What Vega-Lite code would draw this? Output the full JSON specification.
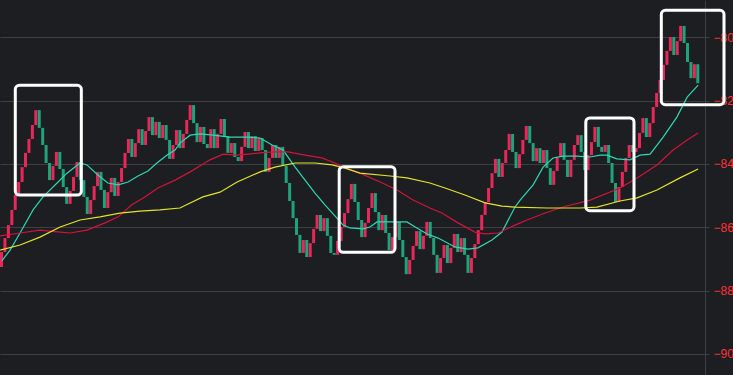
{
"$schema": "https://vega.github.io/schema/vega-lite/v6.json",
"width": 705, "height": 375,
"autosize": {"type": "none"},
"padding": {"left": 0, "top": 0, "right": 28, "bottom": 0},
"background": "#1d1e22",
"config": {"view": {"stroke": null}, "axis": {"labelFont": "Liberation Sans"}, "scale": {"continuousPadding": 0}},
"layer": [
{
"data": {"values": [
{"i":0,"o":-872.5,"c":-867.8},{"i":1,"o":-867.8,"c":-863.4},{"i":2,"o":-863.4,"c":-859.3},{"i":3,"o":-859.3,"c":-854.5},{"i":4,"o":-854.5,"c":-849.8},{"i":5,"o":-849.8,"c":-845.7},{"i":6,"o":-845.7,"c":-841.0},{"i":7,"o":-841.0,"c":-836.5},{"i":8,"o":-836.5,"c":-832.1},{"i":9,"o":-832.1,"c":-827.7},
{"i":10,"o":-827.7,"c":-823.0},{"i":11,"o":-823.0,"c":-828.6},{"i":12,"o":-828.6,"c":-834.0},{"i":13,"o":-834.0,"c":-839.7},{"i":14,"o":-839.7,"c":-845.1},{"i":15,"o":-845.1,"c":-840.6},{"i":16,"o":-840.6,"c":-836.2},{"i":17,"o":-836.2,"c":-841.6},{"i":18,"o":-841.6,"c":-847.3},{"i":19,"o":-847.3,"c":-852.6},
{"i":20,"o":-852.6,"c":-848.5},{"i":21,"o":-848.5,"c":-844.1},{"i":22,"o":-844.1,"c":-839.4},{"i":23,"o":-839.4,"c":-845.1},{"i":24,"o":-845.1,"c":-850.4},{"i":25,"o":-850.4,"c":-855.8},{"i":26,"o":-855.8,"c":-851.4},{"i":27,"o":-851.4,"c":-847.0},{"i":28,"o":-847.0,"c":-842.5},{"i":29,"o":-842.5,"c":-848.2},
{"i":30,"o":-848.2,"c":-853.9},{"i":31,"o":-853.9,"c":-848.9},{"i":32,"o":-848.9,"c":-844.4},{"i":33,"o":-844.4,"c":-850.1},{"i":34,"o":-850.1,"c":-845.7},{"i":35,"o":-845.7,"c":-841.3},{"i":36,"o":-841.3,"c":-836.5},{"i":37,"o":-836.5,"c":-832.1},{"i":38,"o":-832.1,"c":-837.8},{"i":39,"o":-837.8,"c":-833.4},
{"i":40,"o":-833.4,"c":-829.0},{"i":41,"o":-829.0,"c":-834.0},{"i":42,"o":-834.0,"c":-829.6},{"i":43,"o":-829.6,"c":-825.2},{"i":44,"o":-825.2,"c":-830.9},{"i":45,"o":-830.9,"c":-826.7},{"i":46,"o":-826.7,"c":-831.8},{"i":47,"o":-831.8,"c":-827.7},{"i":48,"o":-827.7,"c":-832.4},{"i":49,"o":-832.4,"c":-838.4},
{"i":50,"o":-838.4,"c":-834.0},{"i":51,"o":-834.0,"c":-829.3},{"i":52,"o":-829.3,"c":-835.0},{"i":53,"o":-835.0,"c":-830.5},{"i":54,"o":-830.5,"c":-826.1},{"i":55,"o":-826.1,"c":-821.4},{"i":56,"o":-821.4,"c":-827.1},{"i":57,"o":-827.1,"c":-833.1},{"i":58,"o":-833.1,"c":-828.3},{"i":59,"o":-828.3,"c":-833.7},
{"i":60,"o":-833.7,"c":-835.0},{"i":61,"o":-835.0,"c":-829.0},{"i":62,"o":-829.0,"c":-835.0},{"i":63,"o":-835.0,"c":-830.5},{"i":64,"o":-830.5,"c":-825.8},{"i":65,"o":-825.8,"c":-831.2},{"i":66,"o":-831.2,"c":-836.5},{"i":67,"o":-836.5,"c":-833.4},{"i":68,"o":-833.4,"c":-837.8},{"i":69,"o":-837.8,"c":-839.1},
{"i":70,"o":-839.1,"c":-834.6},{"i":71,"o":-834.6,"c":-829.9},{"i":72,"o":-829.9,"c":-835.0},{"i":73,"o":-835.0,"c":-831.2},{"i":74,"o":-831.2,"c":-835.9},{"i":75,"o":-835.9,"c":-831.8},{"i":76,"o":-831.8,"c":-835.6},{"i":77,"o":-835.6,"c":-842.5},{"i":78,"o":-842.5,"c":-838.1},{"i":79,"o":-838.1,"c":-834.0},
{"i":80,"o":-834.0,"c":-838.1},{"i":81,"o":-838.1,"c":-834.6},{"i":82,"o":-834.6,"c":-840.6},{"i":83,"o":-840.6,"c":-846.0},{"i":84,"o":-846.0,"c":-851.7},{"i":85,"o":-851.7,"c":-857.1},{"i":86,"o":-857.1,"c":-862.4},{"i":87,"o":-862.4,"c":-868.1},{"i":88,"o":-868.1,"c":-864.0},{"i":89,"o":-864.0,"c":-869.4},
{"i":90,"o":-869.4,"c":-865.0},{"i":91,"o":-865.0,"c":-860.5},{"i":92,"o":-860.5,"c":-856.1},{"i":93,"o":-856.1,"c":-861.2},{"i":94,"o":-861.2,"c":-857.1},{"i":95,"o":-857.1,"c":-862.7},{"i":96,"o":-862.7,"c":-868.1},{"i":97,"o":-868.1,"c":-868.7},{"i":98,"o":-868.7,"c":-864.3},{"i":99,"o":-864.3,"c":-859.9},
{"i":100,"o":-859.9,"c":-855.5},{"i":101,"o":-855.5,"c":-851.1},{"i":102,"o":-851.1,"c":-846.3},{"i":103,"o":-846.3,"c":-852.0},{"i":104,"o":-852.0,"c":-857.7},{"i":105,"o":-857.7,"c":-863.1},{"i":106,"o":-863.1,"c":-858.6},{"i":107,"o":-858.6,"c":-853.9},{"i":108,"o":-853.9,"c":-849.2},{"i":109,"o":-849.2,"c":-855.2},
{"i":110,"o":-855.2,"c":-860.9},{"i":111,"o":-860.9,"c":-856.1},{"i":112,"o":-856.1,"c":-861.8},{"i":113,"o":-861.8,"c":-867.2},{"i":114,"o":-867.2,"c":-863.1},{"i":115,"o":-863.1,"c":-858.3},{"i":116,"o":-858.3,"c":-864.0},{"i":117,"o":-864.0,"c":-869.4},{"i":118,"o":-869.4,"c":-874.8},{"i":119,"o":-874.8,"c":-870.3},
{"i":120,"o":-870.3,"c":-865.9},{"i":121,"o":-865.9,"c":-861.2},{"i":122,"o":-861.2,"c":-866.9},{"i":123,"o":-866.9,"c":-862.7},{"i":124,"o":-862.7,"c":-858.3},{"i":125,"o":-858.3,"c":-863.4},{"i":126,"o":-863.4,"c":-868.7},{"i":127,"o":-868.7,"c":-874.4},{"i":128,"o":-874.4,"c":-869.7},{"i":129,"o":-869.7,"c":-865.6},
{"i":130,"o":-865.6,"c":-871.3},{"i":131,"o":-871.3,"c":-866.5},{"i":132,"o":-866.5,"c":-862.1},{"i":133,"o":-862.1,"c":-867.8},{"i":134,"o":-867.8,"c":-863.4},{"i":135,"o":-863.4,"c":-868.7},{"i":136,"o":-868.7,"c":-874.4},{"i":137,"o":-874.4,"c":-869.7},{"i":138,"o":-869.7,"c":-865.3},{"i":139,"o":-865.3,"c":-860.9},
{"i":140,"o":-860.9,"c":-856.1},{"i":141,"o":-856.1,"c":-852.0},{"i":142,"o":-852.0,"c":-847.6},{"i":143,"o":-847.6,"c":-842.9},{"i":144,"o":-842.9,"c":-838.4},{"i":145,"o":-838.4,"c":-844.1},{"i":146,"o":-844.1,"c":-839.7},{"i":147,"o":-839.7,"c":-835.6},{"i":148,"o":-835.6,"c":-830.5},{"i":149,"o":-830.5,"c":-836.2},
{"i":150,"o":-836.2,"c":-841.3},{"i":151,"o":-841.3,"c":-836.9},{"i":152,"o":-836.9,"c":-832.4},{"i":153,"o":-832.4,"c":-828.0},{"i":154,"o":-828.0,"c":-833.4},{"i":155,"o":-833.4,"c":-839.1},{"i":156,"o":-839.1,"c":-835.0},{"i":157,"o":-835.0,"c":-839.7},{"i":158,"o":-839.7,"c":-835.6},{"i":159,"o":-835.6,"c":-841.3},
{"i":160,"o":-841.3,"c":-846.6},{"i":161,"o":-846.6,"c":-842.2},{"i":162,"o":-842.2,"c":-837.8},{"i":163,"o":-837.8,"c":-833.4},{"i":164,"o":-833.4,"c":-838.7},{"i":165,"o":-838.7,"c":-844.1},{"i":166,"o":-844.1,"c":-838.7},{"i":167,"o":-838.7,"c":-834.0},{"i":168,"o":-834.0,"c":-830.9},{"i":169,"o":-830.9,"c":-836.2},
{"i":170,"o":-836.2,"c":-841.9},{"i":171,"o":-841.9,"c":-837.2},{"i":172,"o":-837.2,"c":-833.1},{"i":173,"o":-833.1,"c":-828.3},{"i":174,"o":-828.3,"c":-834.6},{"i":175,"o":-834.6,"c":-836.2},{"i":176,"o":-836.2,"c":-834.0},{"i":177,"o":-834.0,"c":-839.7},{"i":178,"o":-839.7,"c":-846.0},{"i":179,"o":-846.0,"c":-852.0},
{"i":180,"o":-852.0,"c":-847.3},{"i":181,"o":-847.3,"c":-842.5},{"i":182,"o":-842.5,"c":-838.1},{"i":183,"o":-838.1,"c":-834.0},{"i":184,"o":-834.0,"c":-836.2},{"i":185,"o":-836.2,"c":-835.0},{"i":186,"o":-835.0,"c":-830.2},{"i":187,"o":-830.2,"c":-825.5},{"i":188,"o":-825.5,"c":-831.5},{"i":189,"o":-831.5,"c":-827.1},
{"i":190,"o":-827.1,"c":-822.0},{"i":191,"o":-822.0,"c":-817.6},{"i":192,"o":-817.6,"c":-813.5},{"i":193,"o":-813.5,"c":-808.7},{"i":194,"o":-808.7,"c":-804.3},{"i":195,"o":-804.3,"c":-799.9},{"i":196,"o":-799.9,"c":-805.6},{"i":197,"o":-805.6,"c":-801.2},{"i":198,"o":-801.2,"c":-796.4},{"i":199,"o":-796.4,"c":-801.8},
{"i":200,"o":-801.8,"c":-807.8},{"i":201,"o":-807.8,"c":-812.9},{"i":202,"o":-812.9,"c":-808.5},{"i":203,"o":-808.5,"c":-814.5}
]},
"mark": {"type": "bar", "size": 3},
"encoding": {
"x": {"field": "i", "type": "quantitative", "scale": {"domain": [-0.44, 205.1], "nice": false, "zero": false, "padding": 0}, "axis": null},
"y": {"field": "o", "type": "quantitative", "scale": {"domain": [-906.64, -788.22], "nice": false, "zero": false},
 "axis": {"orient": "right", "values": [-800, -820, -840, -860, -880, -900], "title": null, "grid": true, "gridColor": "#3e3f44", "gridWidth": 1, "domainColor": "#3e3f44", "tickColor": "#3e3f44", "tickSize": 4, "labelColor": "#ff3333", "labelFontSize": 12, "labelPadding": 4, "labelOverlap": false, "labelBound": false}},
"y2": {"field": "c"},
"color": {"condition": {"test": "datum.c > datum.o", "value": "#e8285a"}, "value": "#1fa37b"}
}
},
{
"data": {"values": [
{"s":"a","i":0.1,"v":-870.6},{"s":"a","i":2.5,"v":-867.2},{"s":"a","i":5.4,"v":-861.8},{"s":"a","i":9.2,"v":-854.5},{"s":"a","i":12.1,"v":-850.4},{"s":"a","i":16.2,"v":-846.0},{"s":"a","i":19.1,"v":-842.9},{"s":"a","i":22.9,"v":-839.7},{"s":"a","i":24.9,"v":-840.3},{"s":"a","i":28.1,"v":-843.5},
{"s":"a","i":31.0,"v":-846.0},{"s":"a","i":34.0,"v":-846.6},{"s":"a","i":36.9,"v":-845.7},{"s":"a","i":39.8,"v":-843.8},{"s":"a","i":42.7,"v":-842.2},{"s":"a","i":45.3,"v":-839.7},{"s":"a","i":48.3,"v":-837.2},{"s":"a","i":50.6,"v":-835.6},{"s":"a","i":52.0,"v":-833.4},{"s":"a","i":55.0,"v":-830.9},
{"s":"a","i":57.9,"v":-830.5},{"s":"a","i":61.7,"v":-830.9},{"s":"a","i":66.6,"v":-831.5},{"s":"a","i":71.6,"v":-831.5},{"s":"a","i":75.4,"v":-831.8},{"s":"a","i":78.9,"v":-834.0},{"s":"a","i":82.1,"v":-835.6},{"s":"a","i":85.6,"v":-841.0},{"s":"a","i":88.5,"v":-845.1},{"s":"a","i":91.4,"v":-849.2},
{"s":"a","i":94.3,"v":-852.9},{"s":"a","i":97.2,"v":-856.4},{"s":"a","i":99.6,"v":-859.3},{"s":"a","i":101.6,"v":-860.2},{"s":"a","i":105.4,"v":-860.5},{"s":"a","i":107.4,"v":-859.9},{"s":"a","i":109.5,"v":-858.3},{"s":"a","i":113.3,"v":-858.3},{"s":"a","i":118.2,"v":-858.3},{"s":"a","i":121.1,"v":-860.2},
{"s":"a","i":124.1,"v":-862.1},{"s":"a","i":127.3,"v":-863.4},{"s":"a","i":132.2,"v":-866.2},{"s":"a","i":136.0,"v":-866.9},{"s":"a","i":138.9,"v":-866.5},{"s":"a","i":143.0,"v":-864.0},{"s":"a","i":145.9,"v":-861.5},{"s":"a","i":149.7,"v":-853.6},{"s":"a","i":151.2,"v":-851.4},{"s":"a","i":155.0,"v":-846.6},
{"s":"a","i":157.9,"v":-841.0},{"s":"a","i":160.8,"v":-838.1},{"s":"a","i":163.7,"v":-837.5},{"s":"a","i":167.8,"v":-837.5},{"s":"a","i":171.6,"v":-837.8},{"s":"a","i":174.5,"v":-837.2},{"s":"a","i":176.5,"v":-837.2},{"s":"a","i":179.4,"v":-838.4},{"s":"a","i":183.2,"v":-838.7},{"s":"a","i":186.2,"v":-837.2},
{"s":"a","i":189.1,"v":-836.9},{"s":"a","i":192.9,"v":-831.5},{"s":"a","i":196.9,"v":-825.2},{"s":"a","i":199.9,"v":-818.9},{"s":"a","i":203.1,"v":-815.1},
{"s":"b","i":-0.4,"v":-862.7},{"s":"b","i":5.4,"v":-861.8},{"s":"b","i":11.2,"v":-860.9},{"s":"b","i":17.1,"v":-861.5},{"s":"b","i":20.0,"v":-861.8},{"s":"b","i":24.9,"v":-860.9},{"s":"b","i":30.2,"v":-858.6},{"s":"b","i":34.0,"v":-856.7},{"s":"b","i":38.0,"v":-852.9},{"s":"b","i":41.8,"v":-850.4},
{"s":"b","i":45.6,"v":-847.6},{"s":"b","i":50.6,"v":-845.1},{"s":"b","i":55.0,"v":-842.5},{"s":"b","i":60.8,"v":-838.7},{"s":"b","i":64.6,"v":-836.9},{"s":"b","i":68.7,"v":-837.2},{"s":"b","i":75.4,"v":-836.5},{"s":"b","i":79.7,"v":-836.2},{"s":"b","i":83.5,"v":-836.2},{"s":"b","i":88.5,"v":-837.2},
{"s":"b","i":93.4,"v":-838.1},{"s":"b","i":97.2,"v":-839.7},{"s":"b","i":100.2,"v":-841.3},{"s":"b","i":104.5,"v":-842.9},{"s":"b","i":110.4,"v":-845.7},{"s":"b","i":115.3,"v":-848.2},{"s":"b","i":120.0,"v":-851.4},{"s":"b","i":124.9,"v":-853.9},{"s":"b","i":128.4,"v":-855.5},{"s":"b","i":133.1,"v":-858.6},
{"s":"b","i":138.0,"v":-861.5},{"s":"b","i":141.0,"v":-862.1},{"s":"b","i":144.8,"v":-861.8},{"s":"b","i":149.7,"v":-859.3},{"s":"b","i":153.2,"v":-857.7},{"s":"b","i":158.5,"v":-855.5},{"s":"b","i":163.7,"v":-853.6},{"s":"b","i":171.6,"v":-851.4},{"s":"b","i":180.3,"v":-847.6},{"s":"b","i":185.3,"v":-844.4},
{"s":"b","i":191.1,"v":-840.3},{"s":"b","i":195.8,"v":-835.6},{"s":"b","i":199.9,"v":-832.4},{"s":"b","i":203.1,"v":-830.2},
{"s":"c","i":-0.4,"v":-867.2},{"s":"c","i":5.4,"v":-865.6},{"s":"c","i":11.2,"v":-863.1},{"s":"c","i":17.1,"v":-859.9},{"s":"c","i":22.9,"v":-857.7},{"s":"c","i":28.7,"v":-856.7},{"s":"c","i":34.5,"v":-855.5},{"s":"c","i":40.4,"v":-854.9},{"s":"c","i":46.2,"v":-854.5},{"s":"c","i":52.0,"v":-853.9},
{"s":"c","i":55.0,"v":-852.3},{"s":"c","i":58.7,"v":-850.4},{"s":"c","i":63.7,"v":-848.9},{"s":"c","i":68.7,"v":-845.7},{"s":"c","i":75.4,"v":-842.5},{"s":"c","i":79.7,"v":-841.0},{"s":"c","i":85.6,"v":-839.7},{"s":"c","i":91.4,"v":-839.7},{"s":"c","i":96.4,"v":-840.3},{"s":"c","i":100.2,"v":-841.3},
{"s":"c","i":104.5,"v":-842.9},{"s":"c","i":113.3,"v":-843.8},{"s":"c","i":118.2,"v":-844.4},{"s":"c","i":124.9,"v":-846.0},{"s":"c","i":129.3,"v":-847.6},{"s":"c","i":135.1,"v":-849.8},{"s":"c","i":141.0,"v":-852.3},{"s":"c","i":145.9,"v":-853.3},{"s":"c","i":149.7,"v":-853.6},{"s":"c","i":159.0,"v":-853.9},
{"s":"c","i":168.7,"v":-853.9},{"s":"c","i":173.6,"v":-853.6},{"s":"c","i":180.3,"v":-851.7},{"s":"c","i":185.3,"v":-850.7},{"s":"c","i":191.1,"v":-848.2},{"s":"c","i":197.8,"v":-844.4},{"s":"c","i":203.1,"v":-841.6}
]},
"mark": {"type": "line", "strokeWidth": 1.2},
"encoding": {
"x": {"field": "i", "type": "quantitative", "scale": {"domain": [-0.44, 205.1], "nice": false, "zero": false, "padding": 0}, "axis": null},
"y": {"field": "v", "type": "quantitative", "scale": {"domain": [-906.64, -788.22], "nice": false, "zero": false},
 "axis": {"orient": "right", "values": [-800, -820, -840, -860, -880, -900], "title": null, "grid": true, "gridColor": "#3e3f44", "gridWidth": 1, "domainColor": "#3e3f44", "tickColor": "#3e3f44", "tickSize": 4, "labelColor": "#ff3333", "labelFontSize": 12, "labelPadding": 4, "labelOverlap": false, "labelBound": false}},
"color": {"field": "s", "type": "nominal", "scale": {"domain": ["a", "b", "c"], "range": ["#2ad9b5", "#d0143c", "#e3e32a"]}, "legend": null},
"order": {"field": "i", "type": "quantitative"}
}
},
{
"data": {"values": [
{"x1": 4.02, "x2": 23.27, "y1": -815.16, "y2": -849.8},
{"x1": 98.45, "x2": 114.72, "y1": -840.86, "y2": -867.89},
{"x1": 170.35, "x2": 184.4, "y1": -825.48, "y2": -854.76},
{"x1": 192.36, "x2": 210.64, "y1": -791.47, "y2": -821.28}
]},
"mark": {"type": "rect", "filled": false, "stroke": "#ffffff", "strokeWidth": 3, "cornerRadius": 4},
"encoding": {
"x": {"field": "x1", "type": "quantitative", "scale": {"domain": [-0.44, 205.1], "nice": false, "zero": false, "padding": 0}, "axis": null},
"x2": {"field": "x2"},
"y": {"field": "y1", "type": "quantitative", "scale": {"domain": [-906.64, -788.22], "nice": false, "zero": false},
 "axis": {"orient": "right", "values": [-800, -820, -840, -860, -880, -900], "title": null, "grid": true, "gridColor": "#3e3f44", "gridWidth": 1, "domainColor": "#3e3f44", "tickColor": "#3e3f44", "tickSize": 4, "labelColor": "#ff3333", "labelFontSize": 12, "labelPadding": 4, "labelOverlap": false, "labelBound": false}},
"y2": {"field": "y2"}
}
}
]
}
